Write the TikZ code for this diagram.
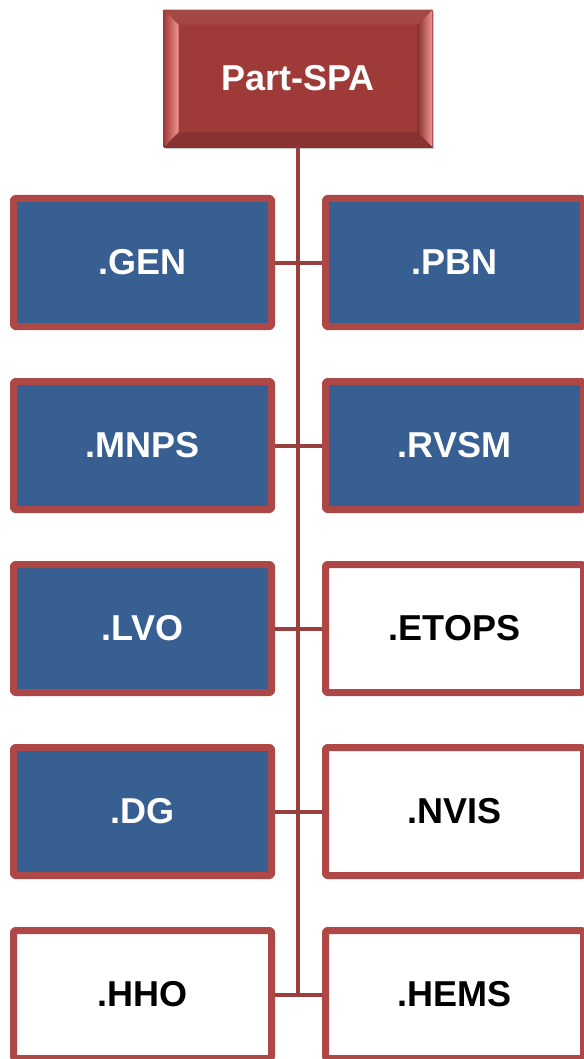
\documentclass[tikz,border=0pt]{standalone}
\usepackage{fontspec}
\setmainfont{Liberation Sans}
\usetikzlibrary{shadows,calc}
\definecolor{vien}{HTML}{AE4846}
\definecolor{xanh}{HTML}{375F91}
\definecolor{dodam}{HTML}{9E3B39}
\definecolor{hong}{HTML}{F39490}
\begin{document}
\begin{tikzpicture}[x=1pt,y=-1pt,line join=round,font=\bfseries\fontsize{36}{40}\selectfont,
	hop/.style={draw=vien,line width=7pt,rounded corners=2pt,minimum width=258pt,minimum height=128pt,inner sep=0pt,
		drop shadow={shadow xshift=1.5pt,shadow yshift=-2.5pt,fill=black!45,opacity=0.45}},
	hopxanh/.style={hop,fill=xanh,text=white},
	hoptrang/.style={hop,fill=white,text=black},
	noi/.style={draw=vien!88!black,line width=4pt}]
	\def\xt{142.5} \def\xp{454.5} % tâm cột trái, cột phải
	\useasboundingbox (0,0) rectangle (583,1059);
	% hộp gốc
	\node[draw=dodam!85!black,line width=0.8pt,fill=dodam,minimum width=268pt,minimum height=137pt,inner sep=0pt,
		drop shadow={shadow xshift=1.5pt,shadow yshift=-2.5pt,fill=black!45,opacity=0.45}] (goc) at (298,78.5) {};
	\shade[left color=dodam,right color=hong] (goc.north west)--($(goc.north west)+(15,15)$)--($(goc.south west)+(15,-15)$)--(goc.south west)--cycle;
	\shade[left color=dodam!85!black,right color=hong] (goc.north east)--($(goc.north east)+(-15,15)$)--($(goc.south east)+(-15,-15)$)--(goc.south east)--cycle;
	\fill[dodam!94!white] (goc.north west)--($(goc.north west)+(15,15)$)--($(goc.north east)+(-15,15)$)--(goc.north east)--cycle;
	\fill[dodam!86!black] (goc.south west)--($(goc.south west)+(15,-15)$)--($(goc.south east)+(-15,-15)$)--(goc.south east)--cycle;
	\node[text=white] (tengoc) at (goc) {Part-SPA};
	% các hộp con
	\node[hopxanh] (gen) at (\xt,262.5) {.GEN};
	\node[hopxanh] (pbn) at (\xp,262.5) {.PBN};
	\node[hopxanh] (mnps) at (\xt,445.5) {.MNPS};
	\node[hopxanh] (rvsm) at (\xp,445.5) {.RVSM};
	\node[hopxanh] (lvo) at (\xt,628.5) {.LVO};
	\node[hoptrang] (etops) at (\xp,628.5) {.ETOPS};
	\node[hopxanh] (dg) at (\xt,811.5) {.DG};
	\node[hoptrang] (nvis) at (\xp,811.5) {.NVIS};
	\node[hoptrang] (hho) at (\xt,994.5) {.HHO};
	\node[hoptrang] (hems) at (\xp,994.5) {.HEMS};
	% đường nối
	\draw[noi] (goc.south) -- (goc.south |- hho.east);
	\draw[noi] (gen.east) -- (pbn.west);
	\draw[noi] (mnps.east) -- (rvsm.west);
	\draw[noi] (lvo.east) -- (etops.west);
	\draw[noi] (dg.east) -- (nvis.west);
	\draw[noi] (hho.east) -- (hems.west);
\end{tikzpicture}
\end{document}
